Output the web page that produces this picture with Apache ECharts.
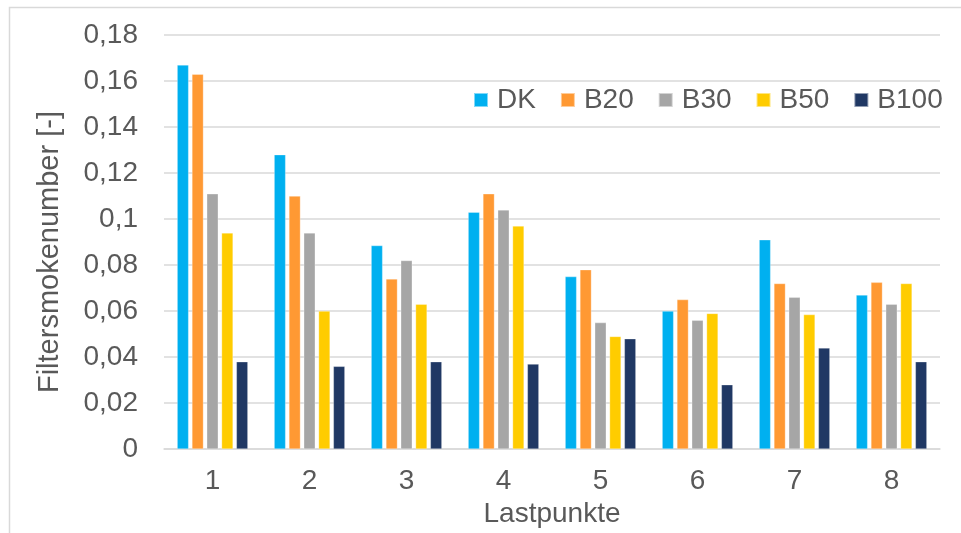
<!DOCTYPE html>
<html>
<head>
<meta charset="utf-8">
<script src="https://cdn.jsdelivr.net/npm/echarts@6/dist/echarts.min.js"></script>
<style>
html,body{margin:0;padding:0;background:#fff;}
#chart{width:961px;height:533px;}
</style>
</head>
<body>
<div id="chart"></div>
<script>
const categories = ['1', '2', '3', '4', '5', '6', '7', '8'];
const seriesNames = ['DK', 'B20', 'B30', 'B50', 'B100'];
const dk   = [0.167, 0.128, 0.0885, 0.103, 0.075, 0.060, 0.091, 0.067];
const b20  = [0.163, 0.110, 0.074, 0.111, 0.078, 0.065, 0.072, 0.0725];
const b30  = [0.111, 0.094, 0.082, 0.104, 0.055, 0.056, 0.066, 0.063];
const b50  = [0.094, 0.060, 0.063, 0.097, 0.049, 0.059, 0.0585, 0.072];
const b100 = [0.038, 0.036, 0.038, 0.037, 0.048, 0.028, 0.044, 0.038];
const yTickLabels = ['0', '0,02', '0,04', '0,06', '0,08', '0,1', '0,12', '0,14', '0,16', '0,18'];
const colors = ['#00b0f0', '#ff9933', '#a6a6a6', '#ffcc00', '#203864'];

const allValues = [dk, b20, b30, b50, b100];
const font = '"Liberation Sans", Arial, sans-serif';
const textColor = '#595959';

const chart = echarts.init(document.getElementById('chart'), null, {renderer: 'canvas'});
chart.setOption({
  animation: false,
  backgroundColor: '#fff',
  color: colors,
  graphic: [{
    type: 'rect',
    shape: {x: 9.5, y: 7.5, width: 1000, height: 1000},
    style: {fill: 'none', stroke: '#d9d9d9', lineWidth: 1.5},
    silent: true
  }],
  grid: {left: 164, right: 21, top: 35, bottom: 82, containLabel: false},
  legend: {
    data: seriesNames,
    left: 473,
    top: 86,
    padding: 0,
    itemWidth: 14,
    itemHeight: 14,
    itemGap: 24,
    icon: 'rect',
    textStyle: {fontFamily: font, fontSize: 28, color: textColor, padding: [0, 0, 0, 4]}
  },
  xAxis: {
    type: 'category',
    data: categories,
    name: 'Lastpunkte',
    nameLocation: 'middle',
    nameGap: 48,
    nameTextStyle: {fontFamily: font, fontSize: 28, color: textColor},
    axisLine: {lineStyle: {color: '#d9d9d9', width: 1.5}},
    axisTick: {show: false},
    axisLabel: {fontFamily: font, fontSize: 28, color: textColor, margin: 18}
  },
  yAxis: {
    type: 'value',
    min: 0,
    max: 0.18,
    interval: 0.02,
    name: 'Filtersmokenumber [-]',
    nameLocation: 'middle',
    nameGap: 100,
    nameRotate: 90,
    nameTextStyle: {fontFamily: font, fontSize: 29, color: textColor, padding: [0, 20, 0, 0]},
    axisLine: {show: false},
    axisTick: {show: false},
    splitLine: {lineStyle: {color: '#d9d9d9', width: 1.5}},
    axisLabel: {
      fontFamily: font, fontSize: 28, color: textColor, margin: 26,
      formatter: function (v) {
        const idx = Math.round(v / 0.02);
        return yTickLabels[idx];
      }
    }
  },
  series: seriesNames.map(function (name, i) {
    return {
      name: name,
      type: 'bar',
      data: allValues[i],
      barGap: '28%',
      barCategoryGap: '27%',
      itemStyle: {color: colors[i], borderColor: 'rgba(255,255,255,0.5)', borderWidth: 0.6}
    };
  })
});
</script>
</body>
</html>
